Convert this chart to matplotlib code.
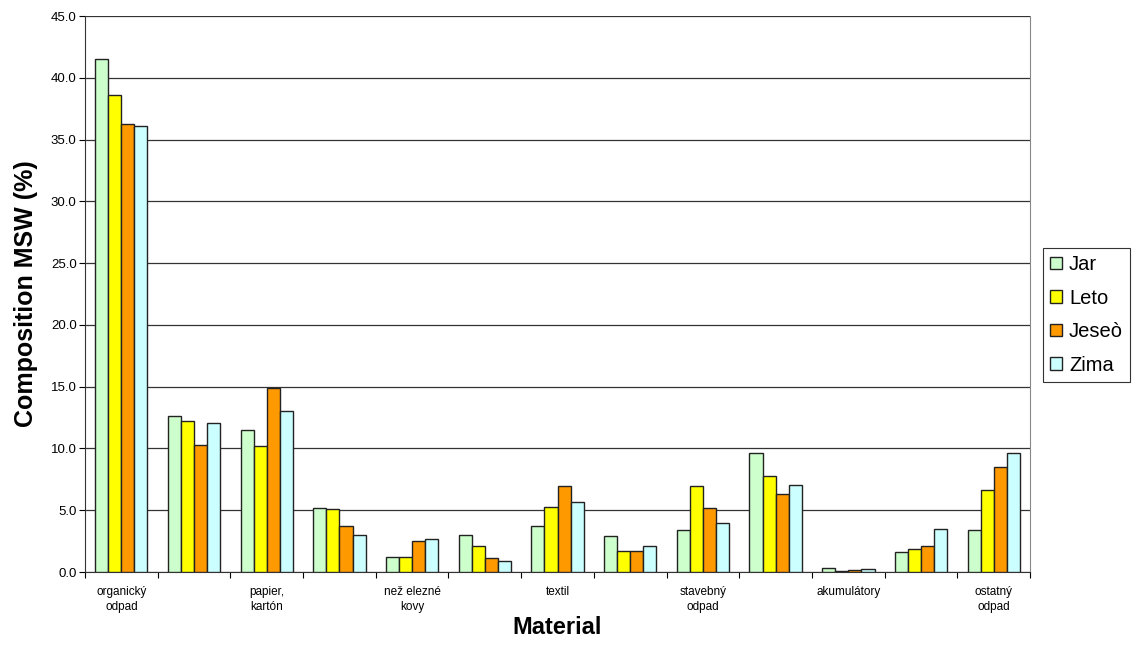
import numpy as np
import matplotlib.pyplot as plt

plt.rcParams['font.family'] = ['Liberation Sans', 'DejaVu Sans']

# categories (only every other one is labelled on the original axis)
categories = ['organický\nodpad', '', 'papier,\nkartón', '', 'než elezné\nkovy', '',
              'textil', '', 'stavebný\nodpad', '', 'akumulátory', '', 'ostatný\nodpad']
seasons = ['Jar', 'Leto', 'Jeseò', 'Zima']

jar = [41.5, 12.6, 11.5, 5.2, 1.2, 3.0, 3.7, 2.9, 3.4, 9.6, 0.3, 1.65, 3.4]
leto = [38.6, 12.2, 10.2, 5.1, 1.2, 2.1, 5.3, 1.7, 6.95, 7.75, 0.1, 1.85, 6.65]
jesen = [36.3, 10.3, 14.9, 3.7, 2.5, 1.1, 7.0, 1.7, 5.2, 6.3, 0.15, 2.1, 8.5]
zima = [36.1, 12.05, 13.0, 3.0, 2.7, 0.9, 5.7, 2.1, 4.0, 7.05, 0.25, 3.45, 9.6]

colors = ['#CCFFCC', '#FFFF00', '#FF9900', '#CCFFFF']

fig = plt.figure(figsize=(11.36, 6.68), dpi=100)
ax = fig.add_axes([0.0748, 0.1437, 0.832, 0.8323])

x = np.arange(len(categories))
w = 0.18
series = [jar, leto, jesen, zima]
for i, (vals, name, c) in enumerate(zip(series, seasons, colors)):
    ax.bar(x + (i - 1.5) * w, vals, width=w, color=c, edgecolor='#222222',
           linewidth=1.0, label=name, zorder=3)

ax.set_xlim(-0.5, len(categories) - 0.5)
ax.set_ylim(0, 45)
ax.set_yticks(np.arange(0, 46, 5))
ax.set_yticklabels([f'{v:.1f}' for v in np.arange(0, 46, 5)], fontsize=9.5)
ax.yaxis.grid(True, color='#333333', linewidth=0.9, zorder=0)

# group boundaries carry the tick marks, labels sit at centres
ax.set_xticks(np.arange(-0.5, len(categories), 1))
ax.set_xticklabels([])
ax.set_xticks(x, minor=True)
ax.set_xticklabels(categories, minor=True, fontsize=8.5, linespacing=1.35)
ax.tick_params(axis='x', which='minor', length=0, pad=10)
ax.tick_params(axis='x', which='major', length=4, direction='out')
ax.tick_params(axis='y', length=4, direction='out', pad=2)

for s in ['left', 'bottom']:
    ax.spines[s].set_color('#333333')
ax.spines['top'].set_visible(False)
ax.spines['right'].set_color('#888888')

ax.set_ylabel('Composition MSW (%)', fontsize=18, fontweight='bold', labelpad=9)
ax.set_xlabel('Material', fontsize=17, fontweight='bold', labelpad=2)

leg = fig.legend(loc='upper left', bbox_to_anchor=(0.918, 1 - 248 / 668), fontsize=14.5,
                 frameon=True, fancybox=False, edgecolor='#333333', framealpha=1,
                 handlelength=0.6, handleheight=0.6, handletextpad=0.35,
                 borderpad=0.35, labelspacing=0.72, borderaxespad=0)
leg.get_frame().set_linewidth(0.8)

fig.savefig('out.png', dpi=100)
